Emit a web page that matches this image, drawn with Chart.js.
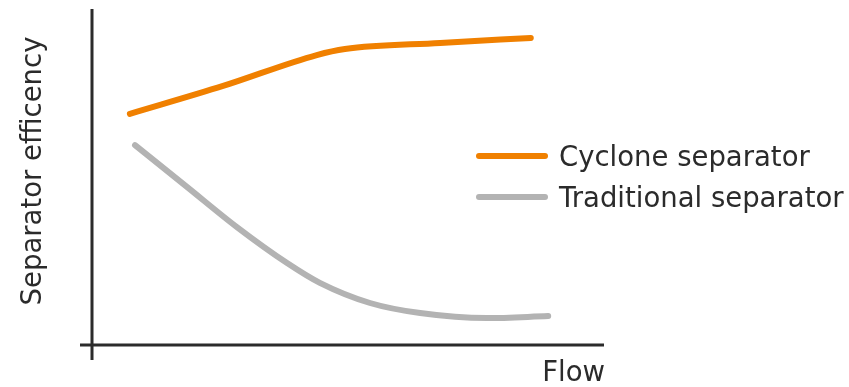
<!DOCTYPE html>
<html lang="en">
<head>
    <meta charset="UTF-8">
    <title>Separator efficiency vs flow</title>
    <script src="https://cdn.jsdelivr.net/npm/chart.js"></script>
    <style>
        body { margin: 0; background: #fff; }
        .wrap { width: 849px; height: 387px; }
    </style>
</head>
<body>
    <div class="wrap"><canvas id="chart" width="849" height="387"></canvas></div>
    <script>
        // flow (0-100) and efficiency (0-100), qualitative curves
        const cycloneFlow = [7.4, 25.6, 43.9, 49.4, 68.0, 85.7];
        const cycloneEff  = [68.8, 77.1, 86.3, 88.1, 89.9, 91.4];
        const tradFlow = [8.4, 18.6, 28.3, 38.1, 44.5, 54.3, 64.1, 77.1, 89.1];
        const tradEff  = [59.5, 47.0, 35.1, 24.4, 18.5, 12.5, 9.5, 8.0, 8.6];
        const seriesNames = ['Cyclone separator', 'Traditional separator'];
        const xTitle = 'Flow';
        const yTitle = 'Separator efficency';

        const toPoints = (xs, ys) => xs.map((x, i) => ({ x: x, y: ys[i] }));
        const font = '27.5px "DejaVu Sans", sans-serif';
        const ink = '#2b2b2b';

        // axes, titles and legend drawn by hand
        const decor = {
            id: 'decor',
            afterDraw(chart) {
                const c = chart.ctx;
                const a = chart.chartArea;
                c.save();
                c.strokeStyle = ink;
                c.lineWidth = 3;
                c.beginPath();
                c.moveTo(a.left, a.top);
                c.lineTo(a.left, a.bottom + 15);
                c.moveTo(a.left - 12, a.bottom);
                c.lineTo(a.right, a.bottom);
                c.stroke();

                c.fillStyle = ink;
                c.font = font;
                c.textAlign = 'right';
                c.textBaseline = 'alphabetic';
                c.fillText(xTitle, a.right + 1, 381);

                c.save();
                c.translate(41, 171);
                c.rotate(-Math.PI / 2);
                c.textAlign = 'center';
                c.fillText(yTitle, 0, 0);
                c.restore();

                c.lineCap = 'round';
                c.lineWidth = 6;
                c.textAlign = 'left';
                c.textBaseline = 'alphabetic';
                chart.data.datasets.forEach((ds, i) => {
                    const y = 156 + i * 41;
                    c.strokeStyle = ds.borderColor;
                    c.beginPath();
                    c.moveTo(479, y);
                    c.lineTo(545, y);
                    c.stroke();
                    c.fillStyle = ink;
                    c.fillText(ds.label, 559, y + 10);
                });
                c.restore();
            }
        };

        new Chart(document.getElementById('chart'), {
            type: 'line',
            data: {
                datasets: [{
                    label: seriesNames[0],
                    data: toPoints(cycloneFlow, cycloneEff),
                    borderColor: '#f08000',
                    borderWidth: 6,
                    borderCapStyle: 'round',
                    cubicInterpolationMode: 'monotone',
                    pointRadius: 0,
                    clip: false
                }, {
                    label: seriesNames[1],
                    data: toPoints(tradFlow, tradEff),
                    borderColor: '#b3b3b3',
                    borderWidth: 6,
                    borderCapStyle: 'round',
                    cubicInterpolationMode: 'monotone',
                    pointRadius: 0,
                    clip: false
                }]
            },
            options: {
                responsive: false,
                animation: false,
                layout: { padding: { left: 92, right: 245, top: 9, bottom: 42 } },
                plugins: { legend: { display: false }, tooltip: { enabled: false } },
                scales: {
                    x: { type: 'linear', min: 0, max: 100, display: false },
                    y: { min: 0, max: 100, display: false }
                }
            },
            plugins: [decor]
        });
    </script>
</body>
</html>
